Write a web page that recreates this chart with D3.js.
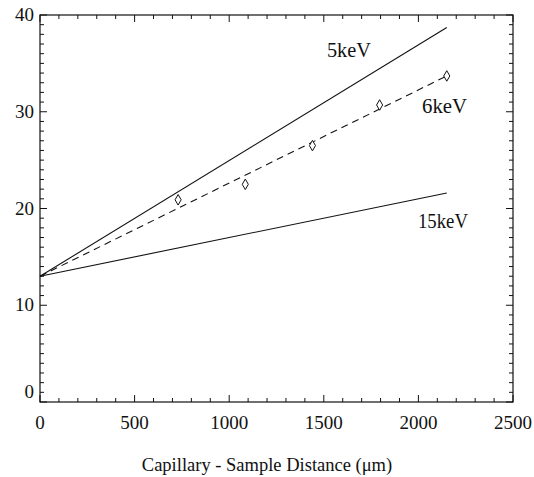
<!DOCTYPE html>
<html><head><meta charset="utf-8">
<script src="https://cdn.jsdelivr.net/npm/d3@7"></script>
<style>body{margin:0;background:#fff} svg text{font-family:"Liberation Serif","DejaVu Serif","Times New Roman",Times,serif;}</style>
</head><body><svg id="c" width="534" height="477"></svg>
<script>
const xTicks = [0, 500, 1000, 1500, 2000, 2500];
const yTicks = [0, 10, 20, 30, 40];
const line5x = [0, 2150], line5y = [13, 38.7];
const line15x = [0, 2150], line15y = [13, 21.6];
const line6x = [0, 2150], line6y = [13, 33.7];
const dataX = [730, 1085, 1440, 1795, 2150];
const dataY = [20.9, 22.5, 26.5, 30.7, 33.7];
const labels = [{t:"5keV", x:1633, y:35.66, w:44}, {t:"6keV", x:2138, y:29.87, w:45}, {t:"15keV", x:2130, y:17.98, w:50}];
const xTitle = "Capillary - Sample Distance (μm)";

const svg = d3.select("#c");
const L=40, R=513, T=15, B=402;
const x = d3.scaleLinear().domain([0,2500]).range([L,R]);
const y = d3.scaleLinear().domain([0,40]).range([B,T]);
const g = svg.append("g").attr("fill","#111");

g.append("rect").attr("x",L).attr("y",T).attr("width",R-L).attr("height",B-T)
 .attr("fill","none").attr("stroke","#111").attr("stroke-width",1.2);

const xMinor = d3.range(0,2501,100), yMinor = d3.range(0,41,1);
xMinor.forEach(v=>{const maj=v%500===0, len=maj?7:4;
  g.append("line").attr("x1",x(v)).attr("x2",x(v)).attr("y1",B).attr("y2",B-len).attr("stroke","#111");
  g.append("line").attr("x1",x(v)).attr("x2",x(v)).attr("y1",T).attr("y2",T+len).attr("stroke","#111");});
yMinor.forEach(v=>{const maj=v%10===0, len=maj?7:4;
  g.append("line").attr("y1",y(v)).attr("y2",y(v)).attr("x1",L).attr("x2",L+len).attr("stroke","#111");
  g.append("line").attr("y1",y(v)).attr("y2",y(v)).attr("x1",R).attr("x2",R-len).attr("stroke","#111");});

xTicks.forEach(v=>g.append("text").attr("x",x(v)).attr("y",429).attr("text-anchor","middle")
  .attr("font-size",19).text(v));
yTicks.forEach(v=>g.append("text").attr("x",34).attr("y",y(v)+6-(v===0?10:0)).attr("text-anchor","end")
  .attr("font-size",19).text(v));

const ln = d3.line().x(d=>x(d[0])).y(d=>y(d[1]));
g.append("path").attr("d",ln(d3.zip(line5x,line5y))).attr("fill","none").attr("stroke","#111").attr("stroke-width",1.1);
g.append("path").attr("d",ln(d3.zip(line15x,line15y))).attr("fill","none").attr("stroke","#111").attr("stroke-width",1.1);
g.append("path").attr("d",ln(d3.zip(line6x,line6y))).attr("fill","none").attr("stroke","#111").attr("stroke-width",1.1).attr("stroke-dasharray","7,5");

const sym = d3.symbol().type(d3.symbolDiamond).size(32);
dataX.forEach((v,i)=>g.append("path").attr("d",sym()).attr("transform",`translate(${x(v)},${y(dataY[i])})`)
  .attr("fill","#fff").attr("stroke","#111").attr("stroke-width",1));

labels.forEach(l=>g.append("text").attr("x",x(l.x)).attr("y",y(l.y)).attr("text-anchor","middle")
  .attr("font-size",20).attr("textLength",l.w).attr("lengthAdjust","spacingAndGlyphs").text(l.t));

g.append("text").attr("x",267).attr("y",471).attr("text-anchor","middle").attr("font-size",18.5).text(xTitle);
</script></body></html>
